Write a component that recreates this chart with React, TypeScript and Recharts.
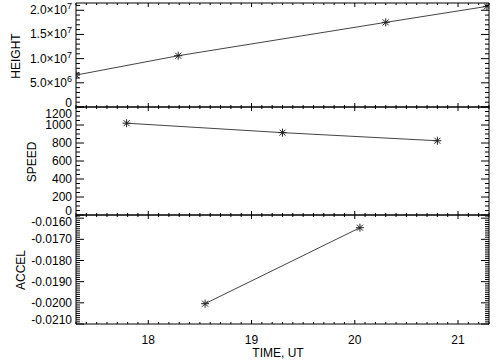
import React from "react";
import { LineChart, Line, XAxis, YAxis, Label } from "recharts";

// values
const heightTime = [17.3, 18.29, 20.3, 21.28];
const heightValue = [6.6e6, 1.06e7, 1.75e7, 2.08e7];

const speedTime = [17.79, 19.3, 20.8];
const speedValue = [1020, 915, 825];

const accelTime = [18.55, 20.05];
const accelValue = [-0.02004, -0.01645];

const timeDomain = [17.3, 21.3];
const timeMajor = [18, 19, 20, 21];
const timeLabels = ["18", "19", "20", "21"];
const timeMinorStep = 0.1;

const heightDomain = [0, 2.15e7];
const heightMajor = [0, 5e6, 1e7, 1.5e7, 2e7];
const heightLabels = [
  ["0", ""],
  ["5.0×10", "6"],
  ["1.0×10", "7"],
  ["1.5×10", "7"],
  ["2.0×10", "7"],
];
const heightMinorStep = 1e6;

const speedDomain = [0, 1200];
const speedMajor = [0, 200, 400, 600, 800, 1000, 1200];
const speedLabels = ["0", "200", "400", "600", "800", "1000", "1200"];
const speedMinorStep = 50;

const accelDomain = [-0.021, -0.01585];
const accelMajor = [-0.021, -0.02, -0.019, -0.018, -0.017, -0.016];
const accelLabels = ["-0.0210", "-0.0200", "-0.0190", "-0.0180", "-0.0170", "-0.0160"];
const accelMinorStep = 0.0001;

const W = 504;
const H = 360;
const LEFT = 76;
const RIGHT = 489;
const FONT = "'Liberation Sans', Arial, Helvetica, sans-serif";

function stepTicks(domain: number[], step: number) {
  const lo = Math.ceil(domain[0] / step - 1e-6);
  const hi = Math.floor(domain[1] / step + 1e-6);
  const out: number[] = [];
  for (let k = lo; k <= hi; k++) out.push(Number((k * step).toPrecision(10)));
  return out;
}

function majorIndex(majors: number[], v: number) {
  const span = Math.abs(majors[majors.length - 1] - majors[0]) || 1;
  return majors.findIndex((m) => Math.abs(m - v) < span * 1e-6);
}

function Asterisk({ cx, cy }: { cx: number; cy: number }) {
  const r = 4;
  const d = 3;
  return (
    <g stroke="#222" strokeWidth={1}>
      <line x1={cx - r} y1={cy} x2={cx + r} y2={cy} />
      <line x1={cx} y1={cy - r} x2={cx} y2={cy + r} />
      <line x1={cx - d} y1={cy - d} x2={cx + d} y2={cy + d} />
      <line x1={cx - d} y1={cy + d} x2={cx + d} y2={cy - d} />
    </g>
  );
}

type PanelProps = {
  top: number;
  bottom: number;
  time: number[];
  values: number[];
  yDomain: number[];
  yMajor: number[];
  yMinorStep: number;
  renderLabel: (i: number) => React.ReactNode;
  title: string;
  titleX: number;
  titleY: number;
  showTime?: boolean;
};

function Panel({
  top,
  bottom,
  time,
  values,
  yDomain,
  yMajor,
  yMinorStep,
  renderLabel,
  title,
  titleX,
  titleY,
  showTime,
}: PanelProps) {
  const data = time.map((t, i) => ({ t, v: values[i] }));
  const xTicks = stepTicks(timeDomain, timeMinorStep);
  const yTicks = stepTicks(yDomain, yMinorStep);

  const bottomTick = (props: any) => {
    const x = props.x;
    const mi = majorIndex(timeMajor, props.payload.value);
    const len = mi >= 0 ? 4 : 2;
    return (
      <g>
        <line x1={x} y1={bottom} x2={x} y2={bottom - len} stroke="#000" />
        {showTime && mi >= 0 && (
          <text x={x} y={bottom + 20} textAnchor="middle" fontSize={12} fontFamily={FONT} fill="#000">
            {timeLabels[mi]}
          </text>
        )}
      </g>
    );
  };

  const topTick = (props: any) => {
    const x = props.x;
    const mi = majorIndex(timeMajor, props.payload.value);
    const len = mi >= 0 ? 4 : 2;
    return <line x1={x} y1={top} x2={x} y2={top + len} stroke="#000" />;
  };

  const leftTick = (props: any) => {
    const y = props.y;
    const mi = majorIndex(yMajor, props.payload.value);
    const len = mi >= 0 ? 8 : 4;
    let ly = y;
    if (top > 10 && ly < top + 7) ly = top + 7;
    if (ly > bottom - 4) ly = bottom - 4;
    return (
      <g>
        <line x1={LEFT} y1={y} x2={LEFT + len} y2={y} stroke="#000" />
        {mi >= 0 && (
          <text x={LEFT - 4} y={ly + 4} textAnchor="end" fontSize={12} fontFamily={FONT} fill="#000">
            {renderLabel(mi)}
          </text>
        )}
      </g>
    );
  };

  const rightTick = (props: any) => {
    const y = props.y;
    const mi = majorIndex(yMajor, props.payload.value);
    const len = mi >= 0 ? 8 : 4;
    return <line x1={RIGHT} y1={y} x2={RIGHT - len} y2={y} stroke="#000" />;
  };

  return (
    <div style={{ position: "absolute", left: 0, top: 0 }}>
      <LineChart
        width={W}
        height={H}
        data={data}
        margin={{ top: top - 1, bottom: H - bottom - 1, left: 0, right: 0 }}
      >
        <XAxis
          dataKey="t"
          type="number"
          domain={timeDomain}
          ticks={xTicks}
          interval={0}
          height={1}
          tickSize={0}
          tickLine={false}
          axisLine={{ stroke: "#000" }}
          tick={bottomTick}
          allowDataOverflow
        >
          {showTime && (
            <Label
              content={() => (
                <text x={278} y={357} textAnchor="middle" fontSize={12} fontFamily={FONT} fill="#000">
                  TIME, UT
                </text>
              )}
            />
          )}
        </XAxis>
        <XAxis
          xAxisId="top"
          orientation="top"
          dataKey="t"
          type="number"
          domain={timeDomain}
          ticks={xTicks}
          interval={0}
          height={1}
          tickSize={0}
          tickLine={false}
          axisLine={{ stroke: "#000" }}
          tick={topTick}
          allowDataOverflow
        />
        <YAxis
          type="number"
          domain={yDomain}
          ticks={yTicks}
          interval={0}
          width={LEFT}
          tickSize={0}
          tickLine={false}
          axisLine={{ stroke: "#000" }}
          tick={leftTick}
          allowDataOverflow
        >
          <Label
            content={() => (
              <text
                x={titleX}
                y={titleY}
                textAnchor="middle"
                fontSize={12}
                fontFamily={FONT}
                fill="#000"
                transform={`rotate(-90 ${titleX} ${titleY})`}
                dominantBaseline="central"
              >
                {title}
              </text>
            )}
          />
        </YAxis>
        <YAxis
          yAxisId="r"
          orientation="right"
          type="number"
          domain={yDomain}
          ticks={yTicks}
          interval={0}
          width={W - RIGHT}
          tickSize={0}
          tickLine={false}
          axisLine={{ stroke: "#000" }}
          tick={rightTick}
          allowDataOverflow
        />
        <Line
          type="linear"
          dataKey="v"
          stroke="#444"
          strokeWidth={1}
          isAnimationActive={false}
          dot={(p: any) => <Asterisk key={p.index} cx={p.cx} cy={p.cy} />}
        />
      </LineChart>
    </div>
  );
}

export default function App() {
  return (
    <div style={{ position: "absolute", left: 0, top: 0, width: W, height: H, background: "#fff" }}>
      <Panel
        top={3}
        bottom={107}
        time={heightTime}
        values={heightValue}
        yDomain={heightDomain}
        yMajor={heightMajor}
        yMinorStep={heightMinorStep}
        renderLabel={(i) => (
          <>
            <tspan>{heightLabels[i][0]}</tspan>
            {heightLabels[i][1] && (
              <tspan dy={-5} fontSize={9}>
                {heightLabels[i][1]}
              </tspan>
            )}
          </>
        )}
        title="HEIGHT"
        titleX={16}
        titleY={56}
      />
      <Panel
        top={107}
        bottom={215}
        time={speedTime}
        values={speedValue}
        yDomain={speedDomain}
        yMajor={speedMajor}
        yMinorStep={speedMinorStep}
        renderLabel={(i) => speedLabels[i]}
        title="SPEED"
        titleX={32}
        titleY={162}
      />
      <Panel
        top={215}
        bottom={324}
        time={accelTime}
        values={accelValue}
        yDomain={accelDomain}
        yMajor={accelMajor}
        yMinorStep={accelMinorStep}
        renderLabel={(i) => accelLabels[i]}
        title="ACCEL"
        titleX={21}
        titleY={270}
        showTime
      />
    </div>
  );
}
